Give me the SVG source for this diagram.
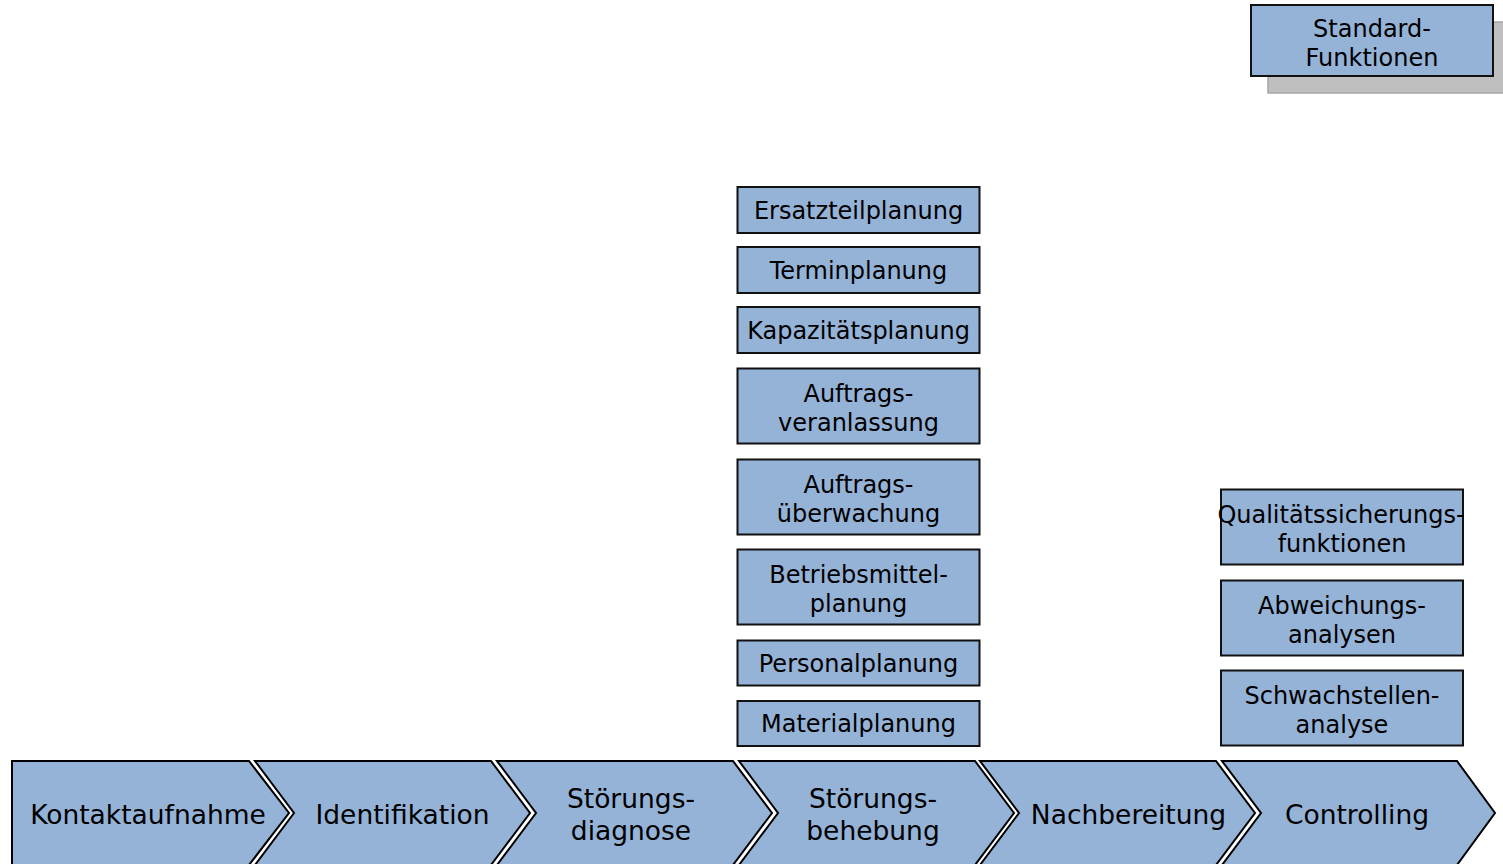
<svg xmlns="http://www.w3.org/2000/svg" width="1503" height="864" viewBox="0 0 1503 864">
  <style>
    .box { fill: #95B3D7; stroke: #111; stroke-width: 2; }
    .chev { fill: #95B3D7; stroke: #000; stroke-width: 2; stroke-linejoin: miter; }
    .shadow { fill: #BFBFBF; stroke: #A6A6A6; stroke-width: 1.5; }
    text { font-family: "DejaVu Sans", Verdana, sans-serif; fill: #000; text-anchor: middle; }
    .t24 { font-size: 24px; }
    .t26 { font-size: 26.5px; }
  </style>

  <!-- Legend: standard functions -->
  <g id="legend-standard">
    <rect class="shadow" x="1268" y="22" width="242" height="71"/>
    <rect class="box" x="1251" y="5" width="242" height="71"/>
    <text class="t24" x="1372" y="37">Standard-</text>
    <text class="t24" x="1372" y="66">Funktionen</text>
  </g>

  <!-- Functions of the fault-clearing phase -->
  <g id="ersatzteilplanung">
    <rect class="box" x="737.5" y="187" width="242" height="46"/>
    <text class="t24" x="858.5" y="219">Ersatzteilplanung</text>
  </g>
  <g id="terminplanung">
    <rect class="box" x="737.5" y="247" width="242" height="46"/>
    <text class="t24" x="858.5" y="279">Terminplanung</text>
  </g>
  <g id="kapazitaetsplanung">
    <rect class="box" x="737.5" y="307" width="242" height="46"/>
    <text class="t24" x="858.5" y="339">Kapazitätsplanung</text>
  </g>
  <g id="auftragsveranlassung">
    <rect class="box" x="737.5" y="368.5" width="242" height="75"/>
    <text class="t24" x="858.5" y="402">Auftrags-</text>
    <text class="t24" x="858.5" y="431">veranlassung</text>
  </g>
  <g id="auftragsueberwachung">
    <rect class="box" x="737.5" y="459.5" width="242" height="75"/>
    <text class="t24" x="858.5" y="493">Auftrags-</text>
    <text class="t24" x="858.5" y="522">überwachung</text>
  </g>
  <g id="betriebsmittelplanung">
    <rect class="box" x="737.5" y="549.5" width="242" height="75"/>
    <text class="t24" x="858.5" y="583">Betriebsmittel-</text>
    <text class="t24" x="858.5" y="612">planung</text>
  </g>
  <g id="personalplanung">
    <rect class="box" x="737.5" y="640.5" width="242" height="45"/>
    <text class="t24" x="858.5" y="672">Personalplanung</text>
  </g>
  <g id="materialplanung">
    <rect class="box" x="737.5" y="701" width="242" height="45"/>
    <text class="t24" x="858.5" y="732">Materialplanung</text>
  </g>

  <!-- Functions of the controlling phase -->
  <g id="qualitaetssicherung">
    <rect class="box" x="1221" y="489.5" width="242" height="75"/>
    <text class="t24" x="1341" y="523">Qualitätssicherungs-</text>
    <text class="t24" x="1342" y="552">funktionen</text>
  </g>
  <g id="abweichungsanalysen">
    <rect class="box" x="1221" y="580.5" width="242" height="75"/>
    <text class="t24" x="1342" y="614">Abweichungs-</text>
    <text class="t24" x="1342" y="643">analysen</text>
  </g>
  <g id="schwachstellenanalyse">
    <rect class="box" x="1221" y="670.5" width="242" height="75"/>
    <text class="t24" x="1342" y="704">Schwachstellen-</text>
    <text class="t24" x="1342" y="733">analyse</text>
  </g>

  <!-- Process chain (chevrons) -->
  <g id="kontaktaufnahme">
    <path class="chev" d="M12,761 L249,761 L289,813 L249,865 L12,865 Z"/>
    <text class="t26" x="148" y="824">Kontaktaufnahme</text>
  </g>
  <g id="identifikation">
    <path class="chev" d="M255,761 L491,761 L530,813 L491,865 L255,865 L294,813 Z"/>
    <text class="t26" x="402.5" y="824">Identifikation</text>
  </g>
  <g id="stoerungsdiagnose">
    <path class="chev" d="M497,761 L733,761 L772,813 L733,865 L497,865 L536,813 Z"/>
    <text class="t26" x="631" y="808">Störungs-</text>
    <text class="t26" x="631" y="840">diagnose</text>
  </g>
  <g id="stoerungsbehebung">
    <path class="chev" d="M739,761 L975,761 L1014,813 L975,865 L739,865 L778,813 Z"/>
    <text class="t26" x="873" y="808">Störungs-</text>
    <text class="t26" x="873" y="840">behebung</text>
  </g>
  <g id="nachbereitung">
    <path class="chev" d="M980,761 L1216,761 L1255,813 L1216,865 L980,865 L1019,813 Z"/>
    <text class="t26" x="1128.5" y="824">Nachbereitung</text>
  </g>
  <g id="controlling">
    <path class="chev" d="M1222,761 L1457,761 L1495,813 L1457,865 L1222,865 L1261,813 Z"/>
    <text class="t26" x="1357" y="824">Controlling</text>
  </g>

  <!-- No connectors between nodes -->
  <g id="connectors"/>
</svg>
